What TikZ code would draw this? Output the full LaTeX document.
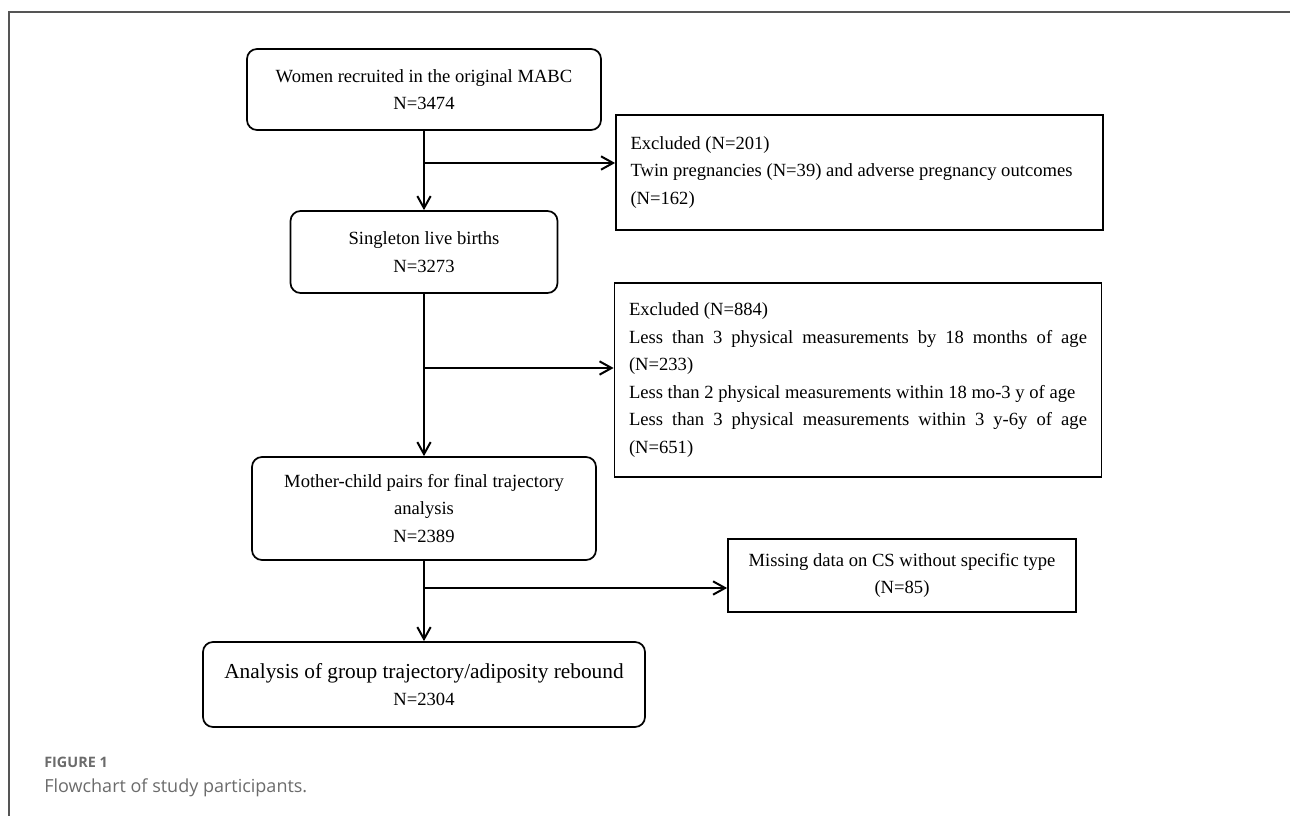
\documentclass[tikz,border=0pt]{standalone}
\usepackage{fontspec}
\setmainfont{Liberation Serif}
\newfontfamily\capfont{Open Sans}
\usetikzlibrary{arrows.meta}
\definecolor{framegray}{HTML}{555555}
\definecolor{capgray}{HTML}{6B6B6B}

\begin{document}
\begin{tikzpicture}[x=0.75pt, y=-0.75pt,
    >={Straight Barb[length=9pt,width=10pt]},
    flow/.style={draw, line width=1.3pt, rounded corners=7.5pt, align=center,
        font=\fontsize{13.95pt}{20.7pt}\selectfont},
    excl/.style={draw, line width=1.3pt, text width=343.5pt, inner xsep=10.9pt,
        font=\fontsize{13.95pt}{20.7pt}\selectfont},
    link/.style={->, line width=1.5pt}]
    \useasboundingbox (0,0) rectangle (1290,816);

    \draw[framegray, line width=1pt] (9,816) -- (9,12) -- (1290,12);

    \node[flow, minimum width=265.5pt, minimum height=60.75pt] (recruit) at (424,89.5) {Women recruited in the original MABC\\N=3474};
    \node[flow, minimum width=200.25pt, minimum height=61.5pt] (single) at (424,252) {Singleton live births\\N=3273};
    \node[flow, minimum width=258pt, minimum height=77.25pt] (pairs) at (424,508.5) {\rule{0pt}{9pt}Mother-child pairs for final trajectory\\analysis\\N=2389};
    \node[flow, minimum width=331.5pt, minimum height=63.75pt] (final) at (424,684.5) {{\fontsize{16pt}{21pt}\selectfont Analysis of group trajectory/adiposity rebound}\\N=2304};

    \node[excl, align=justify, minimum height=86.25pt] (excl1) at (859.5,172.5) {\parindent=0pt\parskip=0pt\rightskip=0pt plus 1fil
        Excluded (N=201)\par
        Twin pregnancies (N=39) and adverse pregnancy outcomes\par
        (N=162)};
    \node[excl, align=justify, minimum height=145.5pt] (excl2) at (858,380) {\parindent=0pt\parskip=0pt\hyphenpenalty=10000\tolerance=9999
        Excluded (N=884)\par
        Less than 3 physical measurements by 18 months of age (N=233)\par
        Less than 2 physical measurements within 18 mo-3 y of age\par
        Less than 3 physical measurements within 3 y-6y of age (N=651)};
    \node[draw, line width=1.3pt, align=center, minimum width=261pt, minimum height=54.75pt,
        font=\fontsize{13.95pt}{20.7pt}\selectfont] (missing) at (902,575.5) {Missing data on CS without specific type\\(N=85)};

    \coordinate (split1) at (424,163);
    \coordinate (split2) at (424,368);
    \coordinate (split3) at (424,588);

    \draw[link] (recruit) -- (single);
    \draw[link] (split1) -- (split1 -| excl1.west);
    \draw[link] (single) -- (pairs);
    \draw[link] (split2) -- (split2 -| excl2.west);
    \draw[link] (pairs) -- (final);
    % \draw[link] (pairs.south) |- (missing.west);
    \draw[link] (split3) -- (split3 -| missing.west);

    \node[anchor=base west, inner sep=0pt, text=capgray, font=\capfont\bfseries\fontsize{10.8pt}{13pt}\selectfont] (figlabel) at (44,767.7) {FIGURE 1};
    \node[anchor=base west, inner sep=0pt, text=capgray, font=\capfont\fontsize{13.5pt}{16pt}\selectfont] (figcaption) at (44,792) {Flowchart of study participants.};
\end{tikzpicture}
\end{document}
